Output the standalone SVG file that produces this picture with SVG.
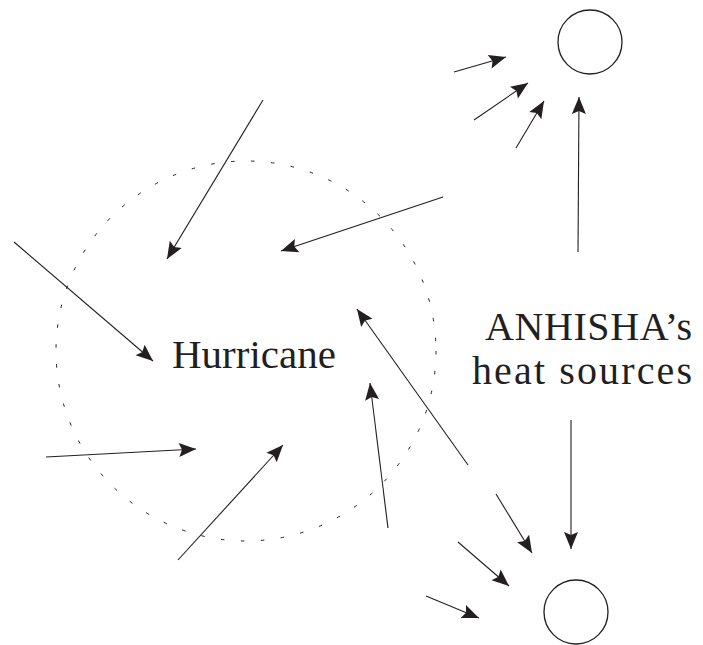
<svg xmlns="http://www.w3.org/2000/svg" width="703" height="645" viewBox="0 0 703 645">
<style>
.ln{stroke:#231f20;stroke-width:1.1;fill:none;marker-end:url(#ah)}
.c{fill:none;stroke:#231f20;stroke-width:1.3}
.t{font-family:"Liberation Serif","Times New Roman",serif;fill:#231f20}
</style>
<defs>
<marker id="ah" markerUnits="userSpaceOnUse" markerWidth="22" markerHeight="18" viewBox="-19 -9 20 18" refX="0" refY="0" orient="auto">
<path d="M0,0 L-17,-7 L-14,0 L-17,7 Z" fill="#231f20"/>
</marker>
</defs>
<rect width="703" height="645" fill="#fff"/>
<g id="hurricane-zone">
<circle cx="246" cy="351" r="190" fill="none" stroke="#231f20" stroke-width="1" stroke-dasharray="3.5 16.5"/>
</g>
<g id="hurricane">
<text class="t" x="172" y="368" font-size="41">Hurricane</text>
</g>
<g id="heat-sources-label">
<text class="t" x="485" y="340" font-size="40" textLength="207">ANHISHA’s</text>
<text class="t" x="472" y="384" font-size="40" textLength="220">heat sources</text>
</g>
<g id="source-top">
<circle class="c" cx="590" cy="42" r="32"/>
</g>
<g id="source-bottom">
<circle class="c" cx="576" cy="612" r="32"/>
</g>
<g id="connectors">
<line class="ln" x1="263" y1="100" x2="167" y2="259"/>
<line class="ln" x1="443" y1="197" x2="281" y2="251"/>
<line class="ln" x1="14" y1="242" x2="153" y2="361"/>
<line class="ln" x1="468" y1="465" x2="357" y2="309"/>
<line class="ln" x1="46" y1="457" x2="196" y2="449"/>
<line class="ln" x1="178" y1="560" x2="283" y2="445"/>
<line class="ln" x1="388" y1="528" x2="370" y2="383"/>
<line class="ln" x1="454" y1="72" x2="506" y2="57"/>
<line class="ln" x1="474" y1="120" x2="528" y2="83"/>
<line class="ln" x1="516" y1="148" x2="544" y2="101"/>
<line class="ln" x1="578" y1="252" x2="579" y2="97"/>
<line class="ln" x1="571" y1="420" x2="571" y2="549"/>
<line class="ln" x1="496" y1="494" x2="532" y2="553"/>
<line class="ln" x1="458" y1="542" x2="509" y2="586"/>
<line class="ln" x1="426" y1="596" x2="479" y2="618"/>
</g>
</svg>
